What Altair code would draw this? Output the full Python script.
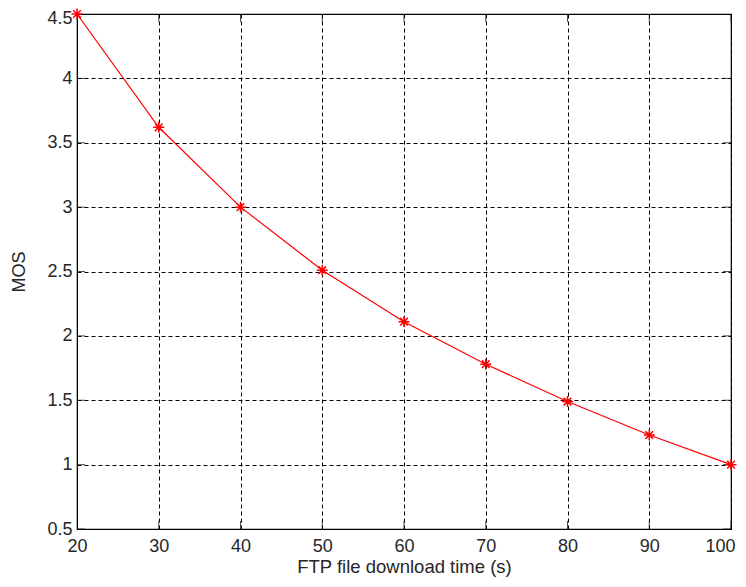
import altair as alt
import pandas as pd

download_time = [20, 30, 40, 50, 60, 70, 80, 90, 100]
mos = [4.5, 3.62, 3.0, 2.51, 2.11, 1.78, 1.49, 1.23, 1.0]
x_ticks = [20, 30, 40, 50, 60, 70, 80, 90, 100]
y_ticks = [0.5, 1, 1.5, 2, 2.5, 3, 3.5, 4, 4.5]

df = pd.DataFrame({"t": download_time, "mos": mos})

W, H = 654, 515
xs = alt.Scale(domain=[20, 100], nice=False, zero=False)
ys = alt.Scale(domain=[0.5, 4.5], nice=False, zero=False)

font = "Liberation Sans"
tcol = "#262626"

x_axis = alt.Axis(values=x_ticks, grid=True, gridDash=[4, 3], gridColor="#000000",
                  gridOpacity=1, gridWidth=1, ticks=False, domain=True,
                  domainColor="#000000", labelFont=font, labelFontSize=18,
                  labelColor=tcol, labelPadding=8,
                  labelOffset={"condition": {"test": "datum.value == 100", "value": -11}, "value": 0},
                  title="FTP file download time (s)",
                  titleFont=font, titleFontSize=18.5, titleFontWeight="normal",
                  titleColor=tcol, titlePadding=2, labelFlush=False)
y_axis = alt.Axis(values=y_ticks, grid=True, gridDash=[4, 3], gridColor="#000000",
                  gridOpacity=1, gridWidth=1, ticks=False, domain=True,
                  domainColor="#000000", labelFont=font, labelFontSize=18,
                  labelColor=tcol, labelPadding=5,
                  labelOffset={"condition": {"test": "datum.value == 4.5", "value": 4}, "value": 0},
                  title="MOS",
                  titleFont=font, titleFontSize=18, titleFontWeight="normal",
                  titleColor=tcol, titlePadding=18, format=".1~f", labelFlush=False)

line = alt.Chart(df).mark_line(color="#ff0000", strokeWidth=1.2).encode(
    x=alt.X("t:Q", scale=xs, axis=x_axis),
    y=alt.Y("mos:Q", scale=ys, axis=y_axis),
)

asterisk = "M -1 0 L 1 0 M 0 -1 L 0 1 M -0.7 -0.7 L 0.7 0.7 M -0.7 0.7 L 0.7 -0.7"
pts = alt.Chart(df).mark_point(shape=asterisk, filled=False, color="#ff0000",
                               strokeWidth=1.5, size=120, opacity=1).encode(
    x=alt.X("t:Q", scale=xs),
    y=alt.Y("mos:Q", scale=ys),
)

xt = pd.DataFrame({"v": x_ticks})
yt = pd.DataFrame({"v": y_ticks})
tk = dict(color="#000000", size=16, thickness=1, clip=True)
tick_bottom = alt.Chart(xt).mark_tick(**tk).encode(
    x=alt.X("v:Q", scale=xs), y=alt.value(H))
tick_top = alt.Chart(xt).mark_tick(**tk).encode(
    x=alt.X("v:Q", scale=xs), y=alt.value(0))
tick_left = alt.Chart(yt).mark_tick(**tk).encode(
    y=alt.Y("v:Q", scale=ys), x=alt.value(0))
tick_right = alt.Chart(yt).mark_tick(**tk).encode(
    y=alt.Y("v:Q", scale=ys), x=alt.value(W))

chart = alt.layer(tick_bottom, tick_top, tick_left, tick_right, line, pts).properties(
    width=W, height=H,
    autosize=alt.AutoSizeParams(type="none"),
    padding={"left": 69, "top": 6, "right": 7, "bottom": 50},
    background="#ffffff",
).configure_view(stroke="#000000", strokeWidth=1.2)

chart.save("out.html", embed_options={"renderer": "svg", "actions": False})
